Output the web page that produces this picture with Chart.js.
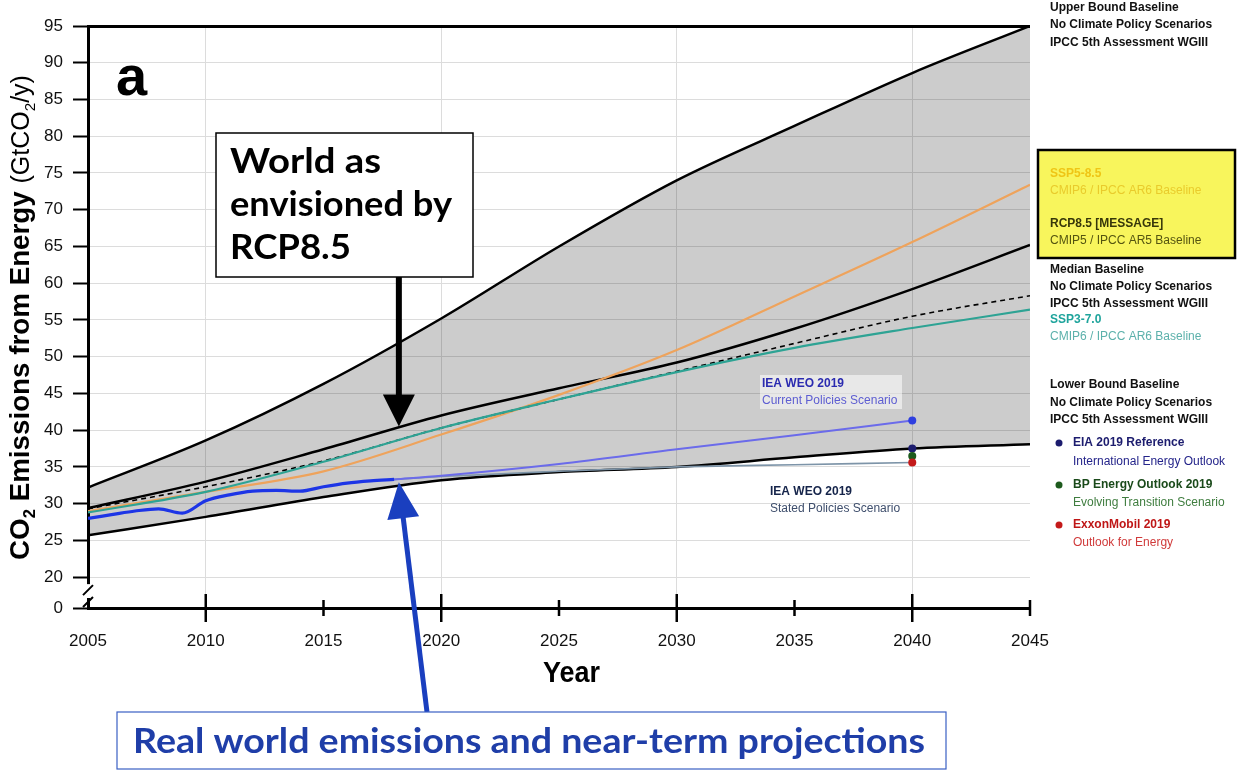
<!DOCTYPE html>
<html>
<head>
<meta charset="utf-8">
<title>CO2 emissions from energy</title>
<script src="https://cdn.jsdelivr.net/npm/chart.js@4.4.0/dist/chart.umd.min.js"></script>
<style>
    html, body { margin: 0; padding: 0; background: #fff; }
    #wrap { width: 1241px; height: 777px; }
</style>
</head>
<body>
<div id="wrap"><canvas id="chart" width="1241" height="777"></canvas></div>
<script>
// baseline scenarios (IPCC AR5 WGIII range, SSPs, RCP8.5)
const scenarioYears = [2005, 2010, 2015, 2020, 2025, 2030, 2035, 2040, 2045];
const upperBound = [32.2, 38.6, 46.3, 55.2, 65.0, 74.0, 81.4, 88.6, 95.0];
const medianBaseline = [29.4, 33.0, 37.4, 42.0, 45.7, 49.2, 53.8, 59.2, 65.2];
const lowerBound = [25.7, 28.2, 30.9, 33.2, 34.3, 35.0, 36.3, 37.5, 38.1];
const rcp85 = [29.3, 32.3, 35.8, 40.3, 44.2, 48.0, 51.8, 55.5, 58.3];
const ssp370 = [28.8, 31.6, 35.7, 40.3, 44.2, 47.9, 51.2, 53.9, 56.4];
const ssp585 = [29.0, 31.6, 34.4, 39.4, 44.8, 50.9, 58.2, 65.6, 73.4];

// real world emissions
const histYears = [2005, 2006, 2007, 2008, 2009, 2010, 2011, 2012, 2013, 2014, 2015, 2016, 2017, 2018];
const histValues = [28.0, 28.5, 29.0, 29.3, 28.7, 30.4, 31.2, 31.7, 31.8, 31.7, 32.3, 32.8, 33.1, 33.3];

// IEA WEO 2019
const ieaYears = [2018, 2020, 2025, 2030, 2035, 2040];
const currentPolicies = [33.3, 33.8, 35.4, 37.4, 39.3, 41.3];
const statedPolicies = [33.3, 33.7, 34.4, 35.0, 35.3, 35.6];

// 2040 outlooks
const outlookYear = 2040;
const outlookValues = [37.5, 36.5, 35.6];
const outlookColors = ['#1c1c6e', '#1d5a1d', '#c41a1a'];

// axes
const xTicks = [2005, 2010, 2015, 2020, 2025, 2030, 2035, 2040, 2045];
const yTicks = [20, 25, 30, 35, 40, 45, 50, 55, 60, 65, 70, 75, 80, 85, 90, 95];
const yBreak = 15.8; // bottom of the broken axis, labelled "0"

function pts(xs, ys) {
    return xs.map((x, i) => ({ x: x, y: ys[i] }));
}

function fitText(ctx, text, x, y, width, font, color) {
    ctx.font = font;
    const w = ctx.measureText(text).width;
    ctx.save();
    ctx.translate(x, y);
    ctx.scale(width / w, 1);
    ctx.fillStyle = color;
    ctx.textAlign = 'left';
    ctx.fillText(text, 0, 0);
    ctx.restore();
}

function arrow(ctx, x0, y0, x1, y1, shaft, headLen, headHalf, color) {
    const dx = x1 - x0, dy = y1 - y0;
    const len = Math.sqrt(dx * dx + dy * dy);
    const ux = dx / len, uy = dy / len;
    const bx = x1 - ux * headLen, by = y1 - uy * headLen;
    ctx.strokeStyle = color;
    ctx.fillStyle = color;
    ctx.lineWidth = shaft;
    ctx.lineCap = 'butt';
    ctx.beginPath();
    ctx.moveTo(x0, y0);
    ctx.lineTo(bx + ux * 2, by + uy * 2);
    ctx.stroke();
    ctx.beginPath();
    ctx.moveTo(x1, y1);
    ctx.lineTo(bx - uy * headHalf, by + ux * headHalf);
    ctx.lineTo(bx + uy * headHalf, by - ux * headHalf);
    ctx.closePath();
    ctx.fill();
}

// legend text on the right: [text, bold, color, x, y]
const sideLabels = [
    ['Upper Bound Baseline', true, '#111', 1050, 8],
    ['No Climate Policy Scenarios', true, '#111', 1050, 25],
    ['IPCC 5th Assessment WGIII', true, '#111', 1050, 43],
    ['SSP5-8.5', true, '#efc516', 1050, 174],
    ['CMIP6 / IPCC AR6 Baseline', false, '#e9cb2c', 1050, 191],
    ['RCP8.5 [MESSAGE]', true, '#37370a', 1050, 224],
    ['CMIP5 / IPCC AR5 Baseline', false, '#545410', 1050, 241],
    ['Median Baseline', true, '#111', 1050, 270],
    ['No Climate Policy Scenarios', true, '#111', 1050, 287],
    ['IPCC 5th Assessment WGIII', true, '#111', 1050, 304],
    ['SSP3-7.0', true, '#1fa49c', 1050, 320],
    ['CMIP6 / IPCC AR6 Baseline', false, '#5cb1ab', 1050, 337],
    ['Lower Bound Baseline', true, '#111', 1050, 385],
    ['No Climate Policy Scenarios', true, '#111', 1050, 403],
    ['IPCC 5th Assessment WGIII', true, '#111', 1050, 420],
    ['EIA 2019 Reference', true, '#1c1c6e', 1073, 443],
    ['International Energy Outlook', false, '#24248a', 1073, 462],
    ['BP Energy Outlook 2019', true, '#1a4a1a', 1073, 485],
    ['Evolving Transition Scenario', false, '#3f7d3f', 1073, 503],
    ['ExxonMobil 2019', true, '#bf1616', 1073, 525],
    ['Outlook for Energy', false, '#d03a3a', 1073, 543]
];
const sideDotsY = [443, 485, 525];

const decorations = {
    id: 'decorations',
    afterDraw(chart) {
        const ctx = chart.ctx;
        const xs = chart.scales.x, ys = chart.scales.y;
        const area = chart.chartArea;
        ctx.save();

        // x tick marks crossing the axis
        ctx.strokeStyle = '#000';
        ctx.lineWidth = 2.5;
        xTicks.forEach(v => {
            if (v === 2005) return;
            const px = xs.getPixelForValue(v);
            const len = v % 10 === 0 ? 14 : 8;
            ctx.beginPath();
            ctx.moveTo(px, area.bottom - len);
            ctx.lineTo(px, area.bottom + len);
            ctx.stroke();
        });

        // broken y axis
        const yTop = ys.getPixelForValue(20) + 7;
        const yBot = area.bottom - 10;
        ctx.fillStyle = '#fff';
        ctx.fillRect(area.left - 3, yTop, 6, yBot - yTop);
        ctx.lineWidth = 2;
        ctx.beginPath();
        ctx.moveTo(area.left - 5, yTop + 11);
        ctx.lineTo(area.left + 5, yTop + 1);
        ctx.moveTo(area.left - 5, yBot + 9);
        ctx.lineTo(area.left + 5, yBot - 1);
        ctx.stroke();

        // panel letter
        ctx.fillStyle = '#000';
        ctx.textBaseline = 'alphabetic';
        ctx.textAlign = 'left';
        ctx.font = 'bold 56px "Liberation Sans"';
        ctx.fillText('a', 116, 95);

        // y title with subscripts
        let s = 26;
        const runs = size => [
            ['CO', `bold ${size}px "Liberation Sans"`, 0],
            ['2', `bold ${size * 0.6}px "Liberation Sans"`, size * 0.22],
            [' Emissions from Energy ', `bold ${size}px "Liberation Sans"`, 0],
            ['(GtCO', `${size * 0.9}px "Liberation Sans"`, 0],
            ['2', `${size * 0.55}px "Liberation Sans"`, size * 0.2],
            ['/y)', `${size * 0.9}px "Liberation Sans"`, 0]
        ];
        let total = 0;
        runs(s).forEach(r => { ctx.font = r[1]; total += ctx.measureText(r[0]).width; });
        s = s * 485 / total;
        ctx.save();
        ctx.translate(29, 560);
        ctx.rotate(-Math.PI / 2);
        ctx.fillStyle = '#000';
        let cx = 0;
        runs(s).forEach(r => {
            ctx.font = r[1];
            ctx.fillText(r[0], cx, r[2]);
            cx += ctx.measureText(r[0]).width;
        });
        ctx.restore();

        // x title
        fitText(ctx, 'Year', 543, 682, 57, 'bold 30px "Liberation Sans"', '#000');

        // RCP8.5 box and arrow
        ctx.fillStyle = '#fff';
        ctx.fillRect(216, 133, 257, 144);
        ctx.strokeStyle = '#000';
        ctx.lineWidth = 1.5;
        ctx.strokeRect(216, 133, 257, 144);
        fitText(ctx, 'World as', 230, 173, 151, 'bold 34px Lato', '#000');
        fitText(ctx, 'envisioned by', 230, 216, 222, 'bold 34px Lato', '#000');
        fitText(ctx, 'RCP8.5', 230, 259, 121, 'bold 34px Lato', '#000');
        const tipX = xs.getPixelForValue(2018.2);
        arrow(ctx, tipX, 277, tipX, ys.getPixelForValue(40.5), 6, 32, 16, '#000');

        // real world box and arrow
        arrow(ctx, 427, 712, tipX, ys.getPixelForValue(32.9), 5, 36, 16, '#1a3fbf');
        ctx.fillStyle = '#fff';
        ctx.fillRect(117, 712, 829, 57);
        ctx.strokeStyle = '#3a5fc4';
        ctx.lineWidth = 1.2;
        ctx.strokeRect(117, 712, 829, 57);
        fitText(ctx, 'Real world emissions and near-term projections', 133, 753, 792, 'bold 35px Lato', '#1f3ea8');

        // IEA labels
        ctx.fillStyle = 'rgba(255,255,255,0.55)';
        ctx.fillRect(760, 375, 142, 34);
        ctx.textBaseline = 'middle';
        ctx.font = 'bold 12px "Liberation Sans"';
        ctx.fillStyle = '#2b2bb0';
        ctx.fillText('IEA WEO 2019', 762, 384);
        ctx.font = '12px "Liberation Sans"';
        ctx.fillStyle = '#5d5dd2';
        ctx.fillText('Current Policies Scenario', 762, 401);
        ctx.font = 'bold 12px "Liberation Sans"';
        ctx.fillStyle = '#15244a';
        ctx.fillText('IEA WEO 2019', 770, 492);
        ctx.font = '12px "Liberation Sans"';
        ctx.fillStyle = '#3e4e6c';
        ctx.fillText('Stated Policies Scenario', 770, 509);

        // right side legend
        ctx.fillStyle = '#f8f55c';
        ctx.fillRect(1038, 150, 197, 108);
        ctx.strokeStyle = '#000';
        ctx.lineWidth = 2.5;
        ctx.strokeRect(1038, 150, 197, 108);
        sideLabels.forEach(l => {
            ctx.font = (l[1] ? 'bold ' : '') + '12px "Liberation Sans"';
            ctx.fillStyle = l[2];
            ctx.fillText(l[0], l[3], l[4]);
        });
        sideDotsY.forEach((y, i) => {
            ctx.fillStyle = outlookColors[i];
            ctx.beginPath();
            ctx.arc(1059, y, 3.5, 0, Math.PI * 2);
            ctx.fill();
        });

        ctx.restore();
    }
};

const lastIea = ieaYears.length - 1;

new Chart(document.getElementById('chart'), {
    type: 'line',
    data: {
        datasets: [
            {
                label: '2040 outlooks',
                data: outlookValues.map(v => ({ x: outlookYear, y: v })),
                showLine: false,
                pointRadius: 4,
                pointBorderWidth: 0,
                pointBackgroundColor: outlookColors
            },
            {
                label: 'Real world emissions',
                data: pts(histYears, histValues),
                borderColor: '#1d35e6',
                borderWidth: 3.2
            },
            {
                label: 'IEA WEO 2019 Current Policies',
                data: pts(ieaYears, currentPolicies),
                borderColor: '#6b6bea',
                borderWidth: 2,
                pointRadius: ctx => ctx.dataIndex === lastIea ? 4 : 0,
                pointBorderWidth: 0,
                pointBackgroundColor: '#2f3fe0'
            },
            {
                label: 'IEA WEO 2019 Stated Policies',
                data: pts(ieaYears, statedPolicies),
                borderColor: '#7d94a8',
                borderWidth: 1.6
            },
            {
                label: 'SSP3-7.0',
                data: pts(scenarioYears, ssp370),
                borderColor: '#2ea394',
                borderWidth: 2.2
            },
            {
                label: 'RCP8.5 [MESSAGE]',
                data: pts(scenarioYears, rcp85),
                borderColor: '#000',
                borderWidth: 1.6,
                borderDash: [5, 4]
            },
            {
                label: 'SSP5-8.5',
                data: pts(scenarioYears, ssp585),
                borderColor: '#eea35c',
                borderWidth: 2.2
            },
            {
                label: 'Median Baseline',
                data: pts(scenarioYears, medianBaseline),
                borderColor: '#000',
                borderWidth: 2.5
            },
            {
                label: 'Lower Bound Baseline',
                data: pts(scenarioYears, lowerBound),
                borderColor: '#000',
                borderWidth: 2.5
            },
            {
                label: 'Upper Bound Baseline',
                data: pts(scenarioYears, upperBound),
                borderColor: '#000',
                borderWidth: 2.5,
                fill: 8,
                backgroundColor: 'rgba(0,0,0,0.2)'
            }
        ]
    },
    options: {
        responsive: false,
        animation: false,
        devicePixelRatio: 1,
        layout: { padding: { left: 0, right: 211, top: 26, bottom: 0 } },
        elements: {
            point: { radius: 0 },
            line: { cubicInterpolationMode: 'monotone' }
        },
        plugins: {
            legend: { display: false },
            tooltip: { enabled: false },
            filler: { drawTime: 'beforeDatasetsDraw' }
        },
        scales: {
            x: {
                type: 'linear',
                min: 2005,
                max: 2045,
                afterFit: scale => { scale.height = 169; },
                afterBuildTicks: scale => { scale.ticks = xTicks.map(v => ({ value: v })); },
                ticks: {
                    callback: v => String(v),
                    font: { family: 'Liberation Sans', size: 17 },
                    color: '#111',
                    padding: 23,
                    maxRotation: 0,
                    autoSkip: false
                },
                grid: {
                    drawTicks: false,
                    color: ctx => (ctx.tick && ctx.tick.value % 10 === 0 && ctx.tick.value !== 2045) ? '#dcdcdc' : 'rgba(0,0,0,0)',
                    lineWidth: 1
                },
                border: { display: true, color: '#000', width: 3 }
            },
            y: {
                min: yBreak,
                max: 95,
                afterFit: scale => { scale.width = 88; },
                afterBuildTicks: scale => { scale.ticks = [yBreak].concat(yTicks).map(v => ({ value: v })); },
                ticks: {
                    callback: v => v === yBreak ? '0' : String(v),
                    font: { family: 'Liberation Sans', size: 17 },
                    color: '#111',
                    padding: 10,
                    autoSkip: false
                },
                grid: {
                    color: ctx => {
                        if (!ctx.tick) return '#dcdcdc';
                        if (ctx.tick.value === 95) return '#000';
                        if (ctx.tick.value === yBreak) return 'rgba(0,0,0,0)';
                        return '#dcdcdc';
                    },
                    lineWidth: ctx => (ctx.tick && ctx.tick.value === 95) ? 3 : 1,
                    tickColor: '#000',
                    tickWidth: 2,
                    tickLength: 15
                },
                border: { display: true, color: '#000', width: 3 }
            }
        }
    },
    plugins: [decorations]
});
</script>
</body>
</html>
